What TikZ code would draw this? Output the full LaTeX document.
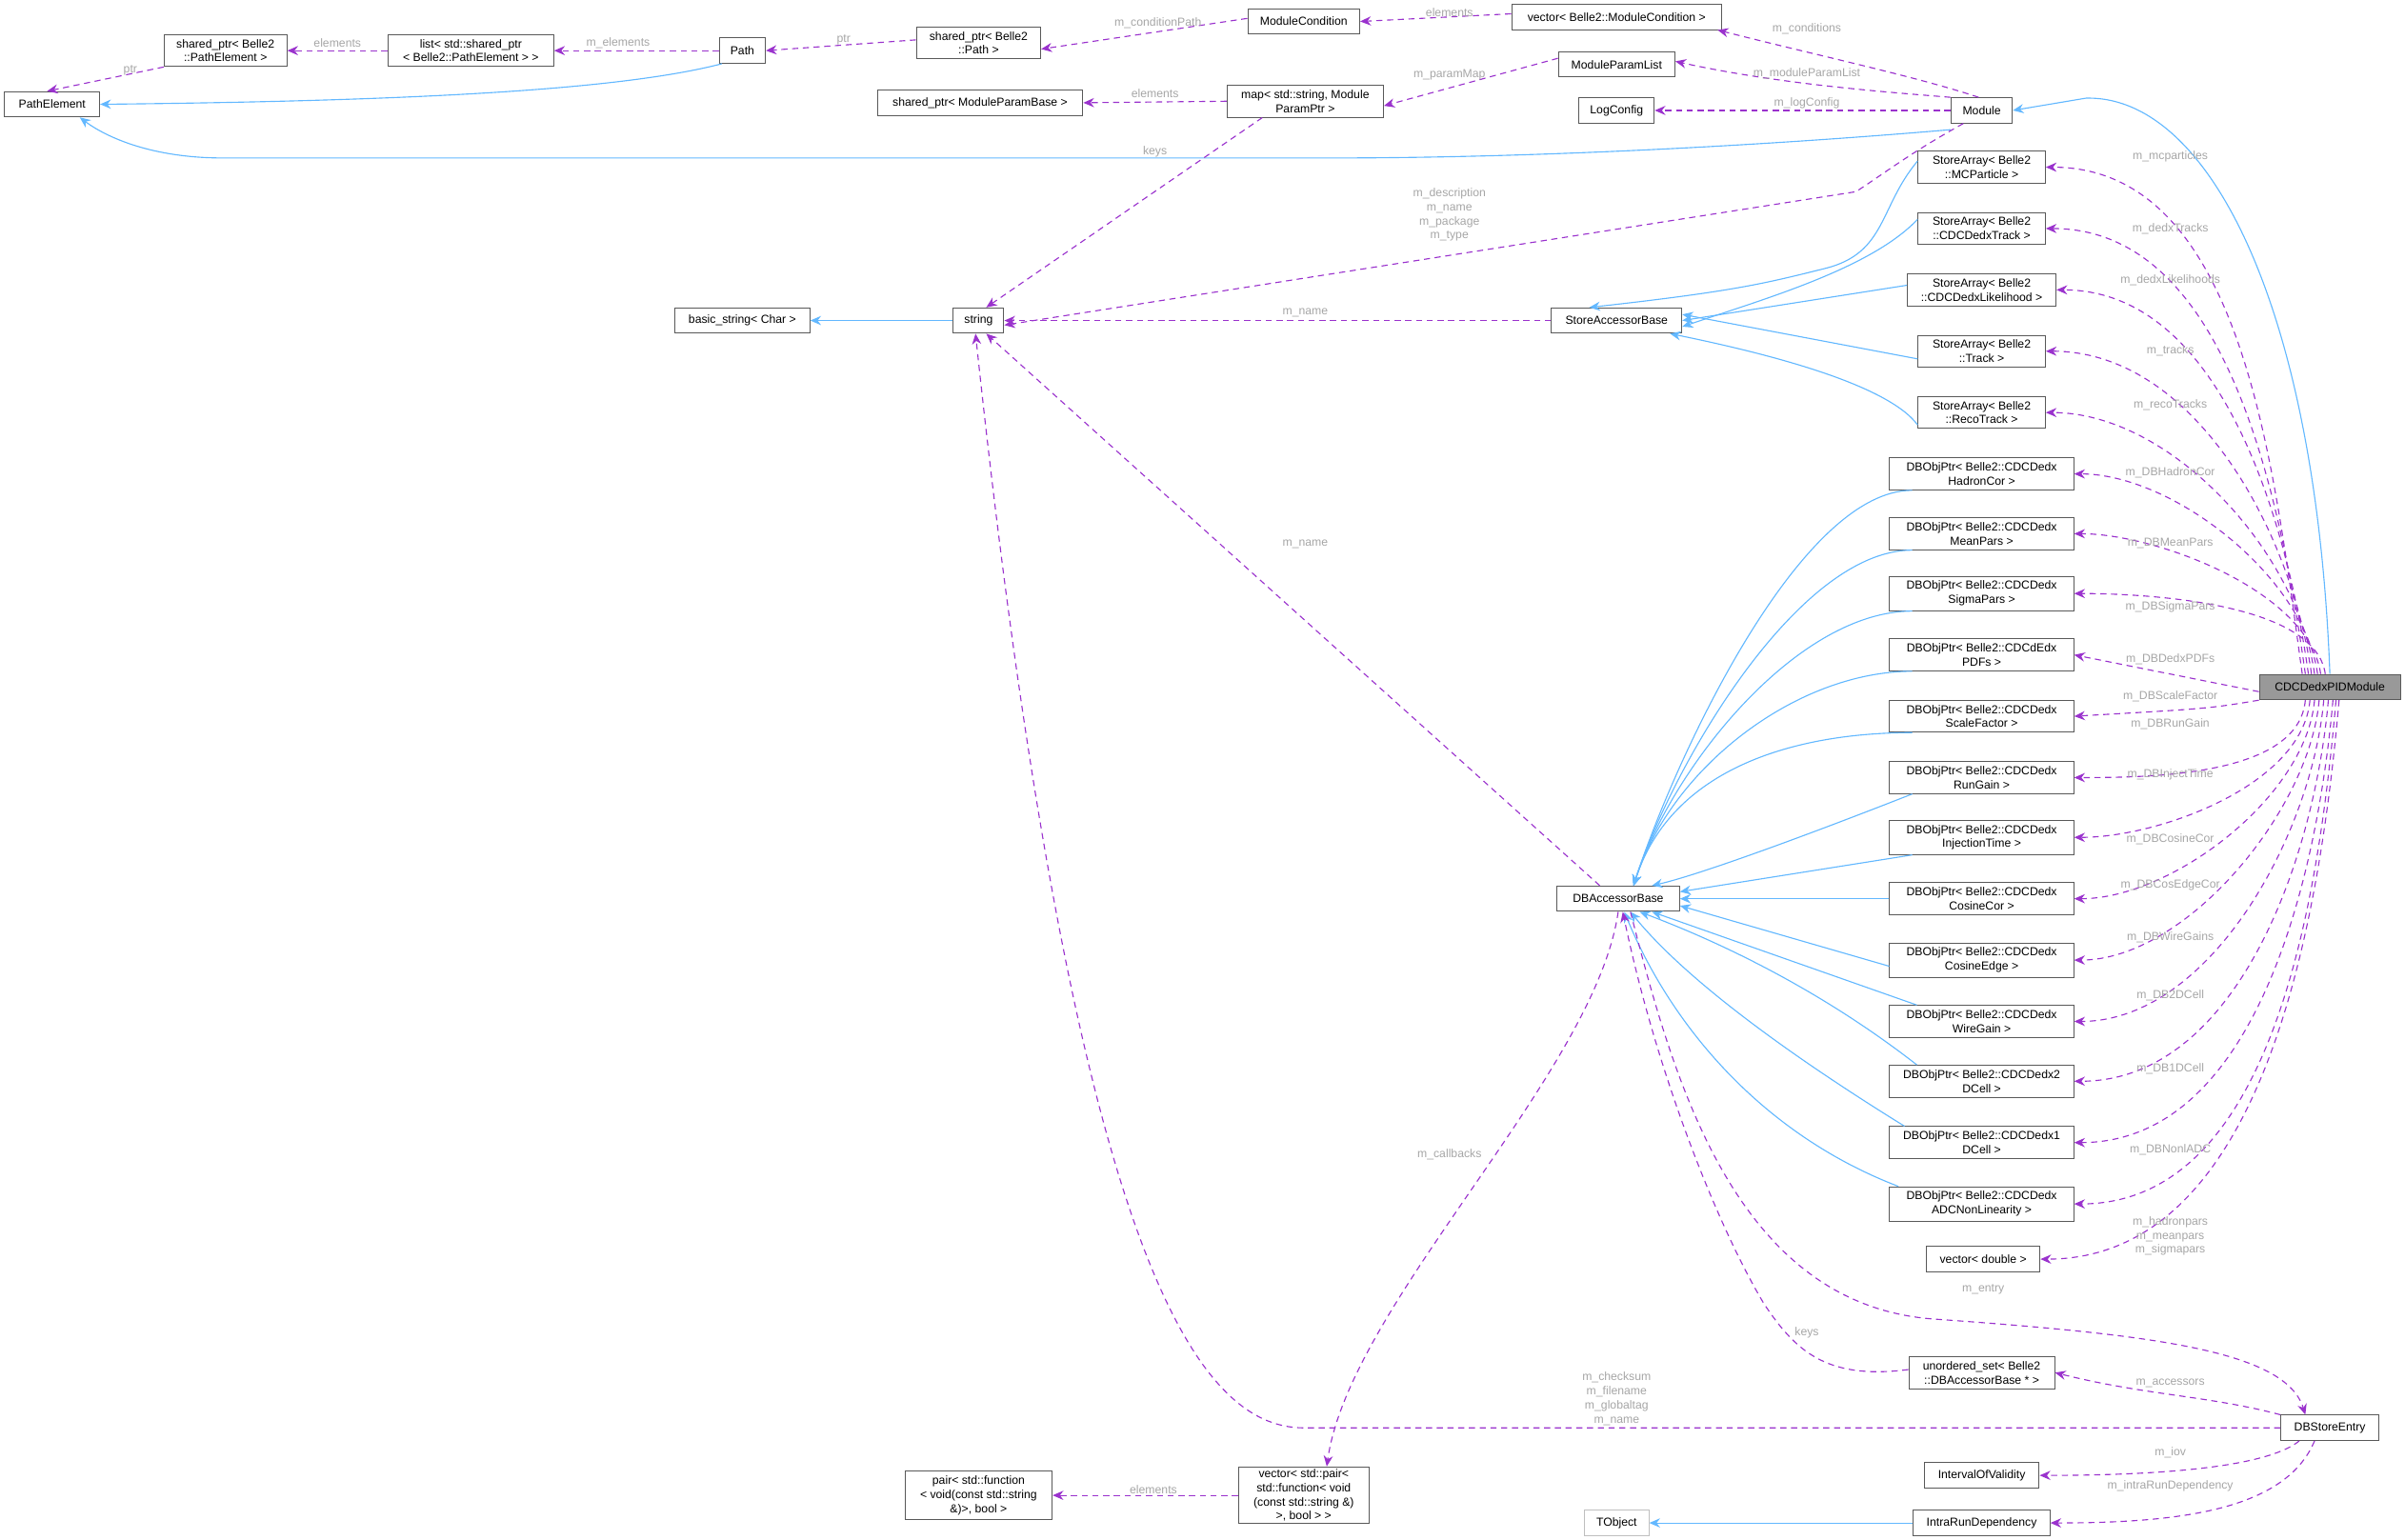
\documentclass[tikz,border=0pt]{standalone}
\usepackage{fontspec}
\setmainfont{Liberation Sans}
\usetikzlibrary{arrows.meta}
\definecolor{depc}{HTML}{9A32CD}
\definecolor{inhc}{HTML}{63B8FF}
\begin{document}
\begin{tikzpicture}[x=1pt,y=-1pt,
  box/.style={draw=black!65, fill=white, font=\fontsize{7.6}{9.2}\selectfont, align=center, inner xsep=1.5pt, inner ysep=3pt, minimum height=16.5pt, line width=0.6pt},
  dep/.style={depc, dashed, dash pattern=on 4pt off 3pt, line width=0.7pt, -{Stealth[length=7pt,width=6pt]}},
  inh/.style={inhc, line width=0.7pt, -{Stealth[length=7pt,width=6pt]}},
  lbl/.style={text=black!35, font=\fontsize{7.6}{9.2}\selectfont, align=center, inner sep=0pt}]
\useasboundingbox (0,0) rectangle (1568,1004);
% nodes
\node[box, minimum width=62] (pe) at (34,68) {PathElement};
\node[box, minimum width=80] (spe) at (147,33) {shared\_ptr< Belle2\\::PathElement >};
\node[box, minimum width=108] (list) at (307,33) {list< std::shared\_ptr\\< Belle2::PathElement > >};
\node[box, minimum width=30] (path) at (484,33) {Path};
\node[box, minimum width=81] (spp) at (638,28) {shared\_ptr< Belle2\\::Path >};
\node[box, minimum width=73] (mc) at (850,14) {ModuleCondition};
\node[box, minimum width=137] (vmc) at (1054,11) {vector< Belle2::ModuleCondition >};
\node[box, minimum width=76] (mpl) at (1054,42) {ModuleParamList};
\node[box, minimum width=49] (lc) at (1054,72) {LogConfig};
\node[box, minimum width=40] (mod) at (1292,72) {Module};
\node[box, minimum width=134] (spm) at (639,67) {shared\_ptr< ModuleParamBase >};
\node[box, minimum width=102] (map) at (851,66) {map< std::string, Module\\ParamPtr >};
\node[box, minimum width=88] (bs) at (484,209) {basic\_string< Char >};
\node[box, minimum width=33] (str) at (638,209) {string};
\node[box, minimum width=85] (sab) at (1054,209) {StoreAccessorBase};
\node[box, minimum width=83] (s1) at (1292,109) {StoreArray< Belle2\\::MCParticle >};
\node[box, minimum width=83] (s2) at (1292,149) {StoreArray< Belle2\\::CDCDedxTrack >};
\node[box, minimum width=97] (s3) at (1292,189) {StoreArray< Belle2\\::CDCDedxLikelihood >};
\node[box, minimum width=83] (s4) at (1292,229) {StoreArray< Belle2\\::Track >};
\node[box, minimum width=83] (s5) at (1292,269) {StoreArray< Belle2\\::RecoTrack >};
\foreach \n/\y/\t in {
 d1/309/{DBObjPtr< Belle2::CDCDedx\\HadronCor >},
 d2/348/{DBObjPtr< Belle2::CDCDedx\\MeanPars >},
 d3/387/{DBObjPtr< Belle2::CDCDedx\\SigmaPars >},
 d4/427/{DBObjPtr< Belle2::CDCdEdx\\PDFs >},
 d5/467/{DBObjPtr< Belle2::CDCDedx\\ScaleFactor >},
 d6/507/{DBObjPtr< Belle2::CDCDedx\\RunGain >},
 d7/546/{DBObjPtr< Belle2::CDCDedx\\InjectionTime >},
 d8/586/{DBObjPtr< Belle2::CDCDedx\\CosineCor >},
 d9/626/{DBObjPtr< Belle2::CDCDedx\\CosineEdge >},
 d10/666/{DBObjPtr< Belle2::CDCDedx\\WireGain >},
 d11/705/{DBObjPtr< Belle2::CDCDedx2\\DCell >},
 d12/745/{DBObjPtr< Belle2::CDCDedx1\\DCell >},
 d13/785/{DBObjPtr< Belle2::CDCDedx\\ADCNonLinearity >}}
 {\node[box, minimum width=120] (\n) at (1292,\y) {\t};}
\node[box, minimum width=74] (vd) at (1293,821) {vector< double >};
\node[box, minimum width=92, fill=black!40] (pid) at (1519,448) {CDCDedxPIDModule};
\node[box, minimum width=80] (dab) at (1055,586) {DBAccessorBase};
\node[box, minimum width=95] (us) at (1292,895) {unordered\_set< Belle2\\::DBAccessorBase * >};
\node[box, minimum width=64] (dbse) at (1519,931) {DBStoreEntry};
\node[box, minimum width=75] (iov) at (1292,962) {IntervalOfValidity};
\node[box, minimum width=42, draw=black!25] (tob) at (1054,993) {TObject};
\node[box, minimum width=89] (intra) at (1292,993) {IntraRunDependency};
\node[box, minimum width=85, inner ysep=1.5pt] (vp) at (850,975) {vector< std::pair<\\std::function< void\\(const std::string \&)\\>, bool > >};
\node[box, minimum width=96] (pair) at (638,975) {pair< std::function\\< void(const std::string\\\&)>, bool >};
% inheritance
\draw[inh] ([xshift=2pt]path.south west) .. controls (400,60) and (250,66) .. (pe.east);
\draw[inh] ([yshift=-4pt]mod.south west) .. controls (1150,95) and (1000,103) .. (870,103) -- (145,103) .. controls (100,103) and (70,90) .. ([xshift=18pt]pe.south);
\draw[inh] (pid.north) .. controls (1510,200) and (1440,62) .. (1360,64) -- (mod.east);
\draw[inh] (str.west) -- (bs.east);
\draw[inh] ([yshift=4pt]s1.west) .. controls (1225,135) and (1230,165) .. (1190,175) .. controls (1150,185) and (1130,190) .. ([xshift=25pt]sab.north west);
\draw[inh] ([yshift=6pt]s2.west) .. controls (1220,175) and (1150,195) .. ([yshift=-4pt]sab.east);
\draw[inh] ([yshift=3pt]s3.west) -- (sab.east);
\draw[inh] ([yshift=-5pt]s4.west) -- ([yshift=4pt]sab.east);
\draw[inh] ([yshift=-8pt]s5.west) .. controls (1230,250) and (1150,230) .. ([xshift=-8pt]sab.south east);
\foreach \n/\c in {d1/1170,d2/1180,d3/1185,d4/1185,d5/1185}
  \draw[inh] ([xshift=15pt]\n.south west) .. controls ([xshift=-60pt]\n.south west) and (1090,500) .. ([xshift=10pt]dab.north);
\draw[inh] ([xshift=15pt]d6.south west) .. controls (1190,540) and (1110,570) .. ([xshift=22pt]dab.north);
\draw[inh] ([xshift=15pt]d7.south west) -- ([yshift=-4pt]dab.north east);
\draw[inh] (d8.west) -- (dab.east);
\draw[inh] ([yshift=-4pt]d9.west) -- ([yshift=4pt]dab.south east);
\draw[inh] ([xshift=18pt]d10.north west) -- ([xshift=22pt]dab.south);
\draw[inh] ([xshift=18pt]d11.north west) .. controls (1180,640) and (1110,610) .. ([xshift=14pt]dab.south);
\draw[inh] ([xshift=10pt]d12.north west) .. controls (1170,690) and (1100,640) .. ([xshift=8pt]dab.south);
\draw[inh] ([xshift=6pt]d13.north west) .. controls (1150,740) and (1090,670) .. ([xshift=4pt]dab.south);
\draw[inh] (intra.west) -- (tob.east);
% dependencies
\draw[dep] (spe.south west) -- ([xshift=28pt]pe.north west);
\node[lbl] at (85,46) {ptr};
\draw[dep] (list.west) -- (spe.east);
\node[lbl] at (220,28) {elements};
\draw[dep] (path.west) -- (list.east);
\node[lbl] at (403,28) {m\_elements};
\draw[dep] ([yshift=2pt]spp.west) -- (path.east);
\node[lbl] at (550,26) {ptr};
\draw[dep] ([yshift=2pt]mc.west) -- ([yshift=-4pt]spp.east);
\node[lbl] at (755,15) {m\_conditionPath};
\draw[dep] ([yshift=2pt]vmc.west) -- (mc.east);
\node[lbl] at (945,8) {elements};
\draw[dep] ([xshift=-2pt]mod.north) .. controls (1250,50) and (1180,35) .. ([xshift=-3pt]vmc.south east);
\node[lbl] at (1178,19) {m\_conditions};
\draw[dep] (mod.north west) .. controls (1230,60) and (1160,55) .. ([yshift=2pt]mpl.east);
\node[lbl] at (1178,48) {m\_moduleParamList};
\draw[dep] (mod.west) -- (lc.east);
\node[lbl] at (1178,67) {m\_logConfig};
\draw[dep] ([yshift=4pt]mpl.west) -- ([yshift=-3pt]map.east);
\node[lbl] at (945,49) {m\_paramMap};
\draw[dep] (map.west) -- (spm.east);
\node[lbl] at (753,61) {elements};
\draw[dep] ([xshift=-28pt]map.south) -- ([xshift=5pt]str.north);
\node[lbl, fill=white] at (753,99) {keys};
\draw[dep] ([xshift=-12pt]mod.south) .. controls (1245,100) and (1230,112) .. (1210,125) -- ([yshift=-3pt]str.east);
\node[lbl] at (945,140) {m\_description\\m\_name\\m\_package\\m\_type};
\draw[dep] (sab.west) -- (str.east);
\node[lbl] at (851,204) {m\_name};
\draw[dep] ([xshift=-12pt]dab.north) -- ([xshift=5pt]str.south);
\node[lbl] at (851,355) {m\_name};
\draw[dep] (dab.south) .. controls (1040,700) and (880,850) .. ([xshift=15pt]vp.north);
\node[lbl] at (945,753) {m\_callbacks};
\draw[dep] (vp.west) -- (pair.east);
\node[lbl] at (752,971) {elements};
\draw[dep] (dbse.west) -- (850,931) .. controls (780,931) and (700,820) .. ([xshift=-2pt]str.south);
\node[lbl] at (1054,912) {m\_checksum\\m\_filename\\m\_globaltag\\m\_name};
\draw[dep] (dbse.north west) .. controls (1440,910) and (1400,910) .. (us.east);
\node[lbl] at (1415,902) {m\_accessors};
\draw[dep] ([yshift=2pt]us.west) .. controls (1190,900) and (1170,880) .. (1150,850) .. controls (1120,800) and (1080,700) .. ([xshift=3pt]dab.south);
\node[lbl] at (1178,869) {keys};
\draw[dep] ([xshift=8pt]dab.south) .. controls (1090,700) and (1130,850) .. (1260,860) .. controls (1400,870) and (1490,880) .. ([xshift=-16pt]dbse.north);
\node[lbl] at (1293,841) {m\_entry};
\draw[dep] ([xshift=-20pt]dbse.south) .. controls (1480,955) and (1420,962) .. (iov.east);
\node[lbl] at (1415,947) {m\_iov};
\draw[dep] ([xshift=-10pt]dbse.south) .. controls (1490,985) and (1420,993) .. (intra.east);
\node[lbl] at (1415,969) {m\_intraRunDependency};
% PID deps
\foreach \n/\dx/\lo in {s1/-18/0.9,s2/-16/0.9,s3/-14/0.9,s4/-12/0.9,s5/-10/0.85,d1/-8/0.8,d2/-6/0.75,d3/-3/0.7}
  \draw[dep] ([xshift=\dx pt]pid.north) to[out=98,in=0,looseness=\lo] (\n.east);
\draw[dep] ([yshift=-3pt]pid.west) -- (d4.east);
\draw[dep] (pid.south west) .. controls (1440,462) .. (d5.east);
\foreach \n/\dx/\lo in {d6/-16/0.8,d7/-13/0.8,d8/-10/0.8,d9/-7/0.8,d10/-4/0.85,d11/-1/0.9,d12/2/0.9,d13/4/0.9,vd/6/0.9}
  \draw[dep] ([xshift=\dx pt]pid.south) to[out=-95,in=0,looseness=\lo] (\n.east);
\foreach \y/\t in {102/m\_mcparticles,149/m\_dedxTracks,183/m\_dedxLikelihoods,229/m\_tracks,264/m\_recoTracks,308/m\_DBHadronCor,354/m\_DBMeanPars,396/m\_DBSigmaPars,430/m\_DBDedxPDFs,454/m\_DBScaleFactor,472/m\_DBRunGain,505/m\_DBInjectTime,547/m\_DBCosineCor,577/m\_DBCosEdgeCor,611/m\_DBWireGains,649/m\_DB2DCell,697/m\_DB1DCell,750/m\_DBNonlADC}
  \node[lbl] at (1415,\y) {\t};
\node[lbl] at (1415,806) {m\_hadronpars\\m\_meanpars\\m\_sigmapars};
\end{tikzpicture}
\end{document}
